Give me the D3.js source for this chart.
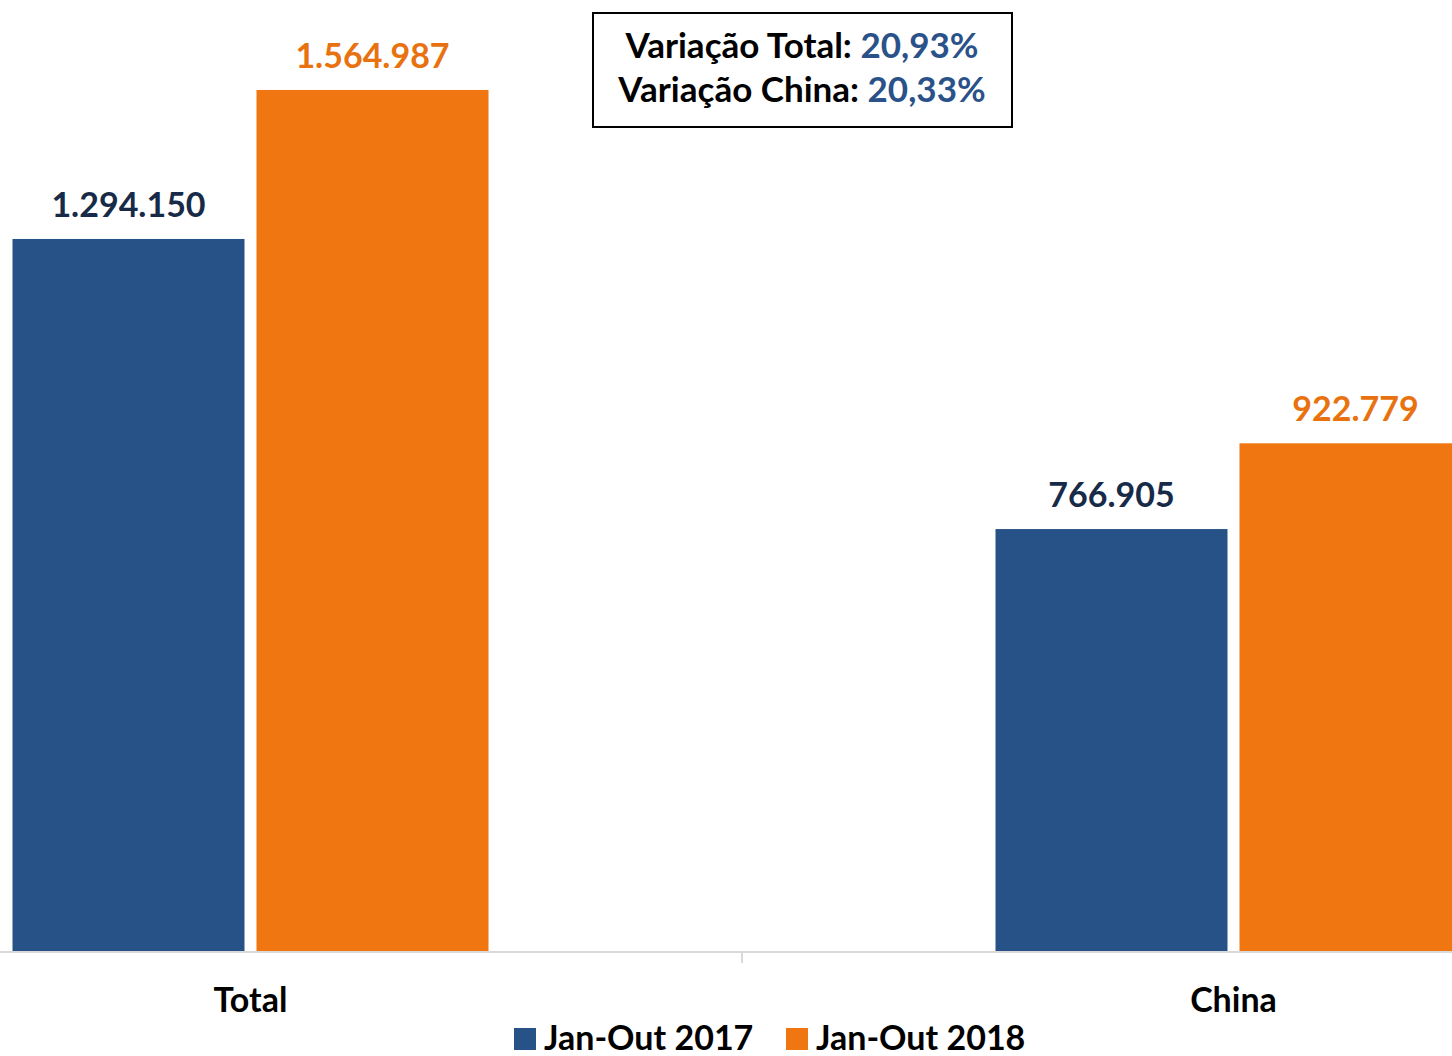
<!DOCTYPE html>
<html>
<head>
<meta charset="utf-8">
<script src="https://cdn.jsdelivr.net/npm/d3@7"></script>
<style>
  body { margin: 0; background: #fff; }
  svg text { font-family: Lato, "Open Sans", sans-serif; font-weight: bold; }
</style>
</head>
<body>
<svg width="1452" height="1056"></svg>
<script>
// categories and series
var categories = ['Total', 'China'];
var seriesNames = ['Jan-Out 2017', 'Jan-Out 2018'];
var values2017 = [1294150, 766905];
var values2018 = [1564987, 922779];
var labels2017 = ['1.294.150', '766.905'];
var labels2018 = ['1.564.987', '922.779'];
var variacao = [['Variação Total: ', '20,93%'], ['Variação China: ', '20,33%']];

var blue = '#265287', orange = '#F07611';
var seriesColor = [blue, orange];
var labelColor = ['#172B48', '#E8720F'];

var svg = d3.select('svg');
var baseY = 951;

// the plot area runs past the picture on both sides
var x = d3.scaleBand().domain(categories).range([-241, 1725]).paddingInner(0).paddingOuter(0);
var y = d3.scaleLinear().domain([0, 1728500]).range([baseY, 0]);

var barW = 232, gap = 12;

var rows = [];
categories.forEach(function (c, i) {
    rows.push({ cat: c, s: 0, v: values2017[i], lab: labels2017[i] });
    rows.push({ cat: c, s: 1, v: values2018[i], lab: labels2018[i] });
});

function barX(d) {
    var center = x(d.cat) + x.bandwidth() / 2;
    return d.s === 0 ? center - gap / 2 - barW : center + gap / 2;
}

svg.selectAll('.bar')
    .data(rows)
    .enter()
    .append('rect')
    .attr('class', 'bar')
    .attr('x', barX)
    .attr('y', function (d) { return y(d.v); })
    .attr('width', barW)
    .attr('height', function (d) { return baseY - y(d.v); })
    .attr('fill', function (d) { return seriesColor[d.s]; });

svg.selectAll('.val')
    .data(rows)
    .enter()
    .append('text')
    .attr('class', 'val')
    .attr('x', function (d) { return barX(d) + barW / 2; })
    .attr('y', function (d) { return y(d.v) - 22; })
    .attr('text-anchor', 'middle')
    .attr('font-size', 34)
    .attr('fill', function (d) { return labelColor[d.s]; })
    .text(function (d) { return d.lab; });

// x axis
var xAxis = svg.append('g').attr('transform', 'translate(0,' + (baseY + 1) + ')');
xAxis.append('line')
    .attr('x1', 0).attr('x2', 1452)
    .attr('y1', 0).attr('y2', 0)
    .attr('stroke', '#d9d9d9').attr('stroke-width', 2);
xAxis.append('line')
    .attr('x1', x('China')).attr('x2', x('China'))
    .attr('y1', 0).attr('y2', 11)
    .attr('stroke', '#d9d9d9').attr('stroke-width', 2);

svg.selectAll('.cat')
    .data(categories)
    .enter()
    .append('text')
    .attr('class', 'cat')
    .attr('x', function (d) { return x(d) + x.bandwidth() / 2; })
    .attr('y', 1012)
    .attr('text-anchor', 'middle')
    .attr('font-size', 34)
    .attr('fill', '#000')
    .text(function (d) { return d; });

// legend
var legX = [514, 786];
var leg = svg.selectAll('.leg')
    .data(seriesNames)
    .enter()
    .append('g')
    .attr('class', 'leg')
    .attr('transform', function (d, i) { return 'translate(' + legX[i] + ',1028)'; });
leg.append('rect')
    .attr('width', 22).attr('height', 22)
    .attr('fill', function (d, i) { return seriesColor[i]; });
leg.append('text')
    .attr('x', 30).attr('y', 22)
    .attr('font-size', 34)
    .attr('fill', '#000')
    .text(function (d) { return d; });

// variation box
svg.append('rect')
    .attr('x', 593).attr('y', 13)
    .attr('width', 419).attr('height', 114)
    .attr('fill', '#fff')
    .attr('stroke', '#000').attr('stroke-width', 2);

svg.selectAll('.varia')
    .data(variacao)
    .enter()
    .append('text')
    .attr('class', 'varia')
    .attr('x', 802)
    .attr('y', function (d, i) { return 58 + i * 44; })
    .attr('text-anchor', 'middle')
    .attr('font-size', 35)
    .each(function (d) {
        var t = d3.select(this);
        t.append('tspan').attr('fill', '#000').text(d[0]);
        t.append('tspan').attr('fill', '#2A5289').text(d[1]);
    });
</script>
</body>
</html>
